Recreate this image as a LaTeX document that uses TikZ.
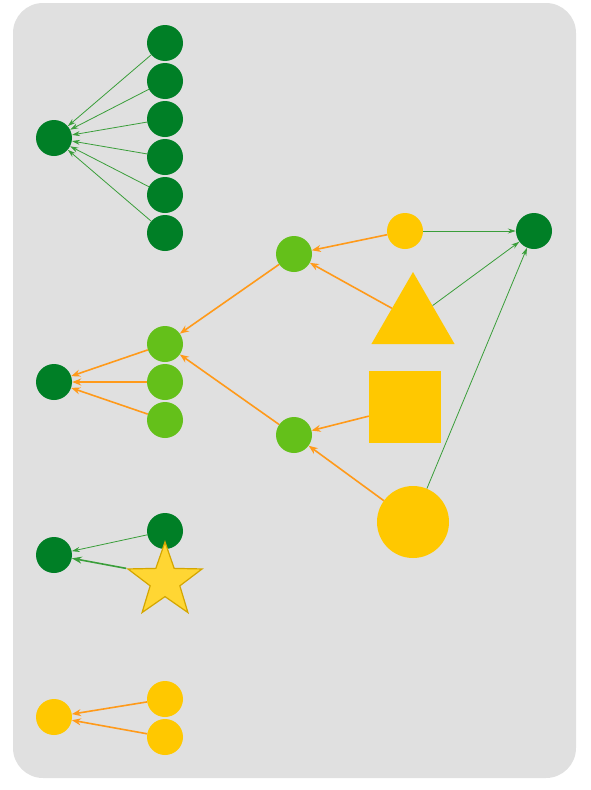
\documentclass[tikz,border=0pt]{standalone}
\usepackage{tikz}
\usetikzlibrary{arrows.meta,shapes.geometric}
\definecolor{panel}{HTML}{E0E0E0}
\definecolor{darkgreen}{HTML}{007F26}
\definecolor{lightgreen}{HTML}{64C01A}
\definecolor{gold}{HTML}{FFC800}
\definecolor{starfill}{HTML}{FFD633}
\definecolor{stardraw}{HTML}{D4A600}
\definecolor{orangeline}{HTML}{FF9A1A}
\definecolor{greenline}{HTML}{3A9E3A}

\begin{document}
\begin{tikzpicture}[x=1pt, y=-1pt,
    dark/.style={circle, fill=darkgreen, minimum size=36pt, inner sep=0pt},
    light/.style={circle, fill=lightgreen, minimum size=36pt, inner sep=0pt},
    yellow/.style={circle, fill=gold, minimum size=36pt, inner sep=0pt},
    orangeedge/.style={draw=orangeline, line width=1.6pt, -{Stealth[length=9pt, width=7pt]}},
    greenedge/.style={draw=greenline, line width=0.8pt, -{Stealth[length=8pt, width=5pt]}}]
    \useasboundingbox (0,0) rectangle (590,790);
    \fill[panel, rounded corners=30pt] (13,3) rectangle (576,778);

    % first group: six into one
    \node[dark] (hub) at (54,138) {};
    \foreach \i/\y in {1/43,2/81,3/119,4/157,5/195,6/233}
        \node[dark] (leaf\i) at (165,\y) {};
    \foreach \i in {1,...,6}
        \draw[greenedge] (leaf\i) -- (hub);

    % right part
    \node[dark] (sink) at (534,231) {};
    \node[yellow] (dot) at (405,231) {};
    \node[regular polygon, regular polygon sides=3, fill=gold, minimum size=96pt, inner sep=0pt] (tri) at (413,320) {};
    \node[rectangle, fill=gold, minimum size=72pt, inner sep=0pt] (box) at (405,407) {};
    \node[circle, fill=gold, minimum size=72pt, inner sep=0pt] (big) at (413,522) {};
    \node[light] (upper) at (294,254) {};
    \node[light] (lower) at (294,435) {};

    \draw[orangeedge] (dot) -- (upper);
    \draw[orangeedge] (tri) -- (upper);
    \draw[orangeedge] (box) -- (lower);
    \draw[orangeedge] (big) -- (lower);
    \draw[greenedge] (dot) -- (sink);
    \draw[greenedge] (tri) -- (sink);
    \draw[greenedge] (big) -- (sink);

    % second group
    \node[dark] (mid) at (54,382) {};
    \node[light] (la) at (165,344) {};
    \node[light] (lb) at (165,382) {};
    \node[light] (lc) at (165,420) {};
    \draw[orangeedge] (upper) -- (la);
    \draw[orangeedge] (lower) -- (la);
    \draw[orangeedge] (la) -- (mid);
    \draw[orangeedge] (lb) -- (mid);
    \draw[orangeedge] (lc) -- (mid);

    % third group
    \node[dark] (low) at (54,555) {};
    \node[dark] (top) at (165,531) {};
    \node[star, star points=5, star point ratio=2.5, fill=starfill, draw=stardraw, line width=1.2pt,
          minimum size=78pt, inner sep=0pt] (st) at (165,581) {};
    \draw[greenedge] (top) -- (low);
    \draw[greenedge, line width=1.6pt, -{Stealth[length=10pt, width=7pt]}] (st.outer point 2) -- (low);

    % fourth group
    \node[yellow] (end) at (54,717) {};
    \node[yellow] (ya) at (165,699) {};
    \node[yellow] (yb) at (165,737) {};
    \draw[orangeedge] (ya) -- (end);
    \draw[orangeedge] (yb) -- (end);
\end{tikzpicture}
\end{document}
